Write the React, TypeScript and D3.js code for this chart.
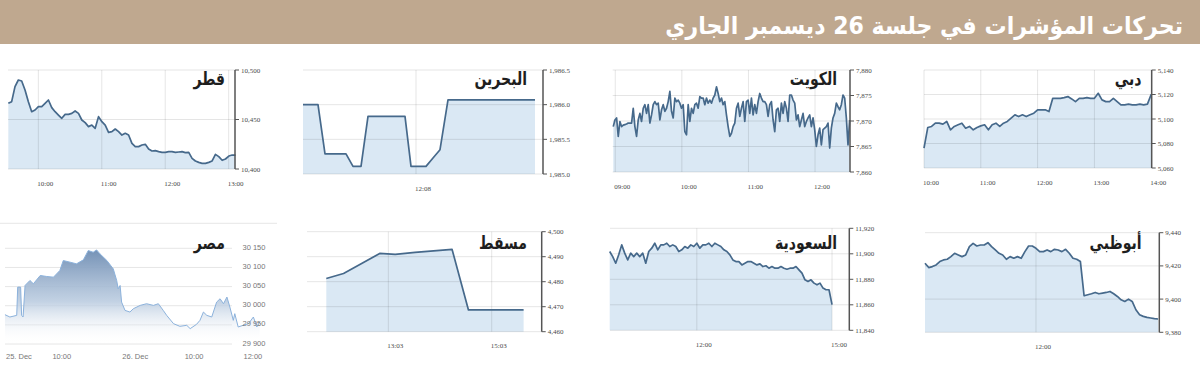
import React from 'react';
import * as d3 from 'd3';

// time helper: minutes since midnight
const t = (h: number, m: number) => h * 60 + m;
const evenTimes = (start: number, step: number, n: number) => d3.range(n).map((i) => start + i * step);

const headerTitle = 'تحركات المؤشرات في جلسة 26 ديسمبر الجاري';

// قطر
const qatarValues = [
  10466.3, 10468.0, 10483.2, 10489.9, 10488.9, 10479.8, 10468.0, 10457.9, 10459.6, 10463.0,
  10463.0, 10466.3, 10469.7, 10462.0, 10457.9, 10454.5, 10451.2, 10455.2, 10455.2, 10456.2,
  10458.6, 10456.2, 10449.5, 10446.8, 10442.8, 10444.4, 10441.1, 10452.9, 10447.8, 10444.4,
  10437.0, 10437.7, 10440.4, 10437.7, 10434.3, 10436.0, 10434.3, 10425.9, 10422.6, 10422.6,
  10424.2, 10424.9, 10420.2, 10418.2, 10418.5, 10417.5, 10416.8, 10416.8, 10417.5, 10417.5,
  10416.8, 10417.2, 10417.5, 10416.5, 10416.8, 10410.8, 10408.1, 10406.7, 10405.7, 10405.7,
  10406.7, 10408.1, 10414.8, 10412.5, 10408.8, 10410.1, 10413.1, 10414.1, 10414.1,
];
const qatarYTicks = [10400, 10450, 10500];
const qatarXTicks = [t(10, 0), t(11, 0), t(12, 0), t(13, 0)];

// البحرين
const bahrainTimes = [
  t(10, 15), t(10, 30), t(10, 37), t(10, 58), t(11, 5), t(11, 13), t(11, 20),
  t(11, 57), t(12, 3), t(12, 18), t(12, 25), t(12, 32), t(12, 40), t(14, 7),
];
const bahrainValues = [
  1986.0, 1986.0, 1985.29, 1985.29, 1985.11, 1985.11, 1985.83,
  1985.83, 1985.11, 1985.11, 1985.23, 1985.35, 1986.07, 1986.07,
];
const bahrainYTicks = [1985.0, 1985.5, 1986.0, 1986.5];
const bahrainXTicks = [t(12, 8)];

// الكويت
const kuwaitValues = [
  7868.9, 7870.2, 7870.6, 7867.0, 7869.9, 7868.9, 7869.2, 7869.3, 7869.4, 7869.6,
  7869.6, 7869.6, 7872.5, 7868.9, 7867.0, 7870.2, 7871.5, 7869.9, 7872.5, 7873.2,
  7871.5, 7873.2, 7869.6, 7871.2, 7873.2, 7873.8, 7873.2, 7873.5, 7870.2, 7872.2,
  7873.2, 7871.9, 7872.5, 7873.8, 7875.8, 7871.9, 7870.6, 7874.5, 7873.8, 7874.1,
  7873.5, 7872.5, 7873.2, 7867.9, 7867.3, 7873.2, 7869.9, 7872.5, 7871.5, 7873.2,
  7873.5, 7872.5, 7874.8, 7874.5, 7874.5, 7873.2, 7874.5, 7873.5, 7874.1, 7873.5,
  7874.5, 7875.1, 7876.7, 7875.4, 7873.8, 7874.5, 7873.2, 7873.8, 7871.2, 7868.9,
  7867.0, 7867.6, 7868.9, 7869.6, 7872.5, 7873.5, 7870.9, 7872.5, 7873.8, 7869.9,
  7873.8, 7874.1, 7871.5, 7874.5, 7871.2, 7873.2, 7871.5, 7873.8, 7875.4, 7874.5,
  7873.8, 7873.8, 7873.2, 7870.9, 7873.2, 7873.8, 7870.2, 7867.9, 7872.2, 7872.5,
  7869.9, 7873.5, 7871.5, 7873.8, 7872.5, 7869.9, 7875.1, 7875.1, 7874.1, 7873.5,
  7870.2, 7871.2, 7868.9, 7870.2, 7871.5, 7868.9, 7869.9, 7870.6, 7871.2, 7868.9,
  7870.6, 7868.3, 7865.0, 7867.3, 7868.6, 7865.3, 7868.3, 7868.6, 7868.9, 7869.6,
  7864.7, 7868.6, 7870.6, 7871.5, 7873.5, 7872.8, 7872.2, 7873.2, 7875.1, 7874.5,
  7870.6, 7865.3, 7870.2,
];
const kuwaitYTicks = [7860, 7865, 7870, 7875, 7880];
const kuwaitXTicks = [t(9, 0), t(10, 0), t(11, 0), t(12, 0)];

// دبي
const dubaiValues = [
  5076.3, 5093.1, 5093.9, 5096.6, 5096.6, 5095.8, 5098.0, 5091.2, 5093.9, 5095.3,
  5096.6, 5092.5, 5093.9, 5091.2, 5093.1, 5094.4, 5095.3, 5091.2, 5095.3, 5096.6,
  5093.9, 5096.6, 5098.0, 5100.7, 5103.4, 5102.0, 5103.4, 5102.0, 5103.4, 5104.7,
  5107.5, 5107.5, 5107.5, 5106.1, 5116.9, 5116.9, 5116.9, 5117.5, 5118.3, 5116.4,
  5114.2, 5116.9, 5116.9, 5117.5, 5116.9, 5116.9, 5121.0, 5115.6, 5114.2, 5114.2,
  5116.9, 5114.2, 5111.5, 5111.5, 5112.1, 5111.5, 5111.5, 5112.1, 5111.5, 5112.1,
  5120.2,
];
const dubaiYTicks = [5060, 5080, 5100, 5120, 5140];
const dubaiXTicks = [t(10, 0), t(11, 0), t(12, 0), t(13, 0), t(14, 0)];

// مسقط
const muscatTimes = [t(11, 51), t(12, 11), t(12, 32), t(12, 53), t(13, 11), t(13, 34), t(14, 17), t(14, 36), t(15, 40)];
const muscatValues = [4481.3, 4483.3, 4487.3, 4491.3, 4490.9, 4491.7, 4492.9, 4468.7, 4468.7];
const muscatYTicks = [4460, 4470, 4480, 4490, 4500];
const muscatXTicks = [t(13, 3), t(15, 3)];

// السعودية
const saudiValues = [
  11901.8, 11897.8, 11892.6, 11899.2, 11907.0, 11900.5, 11895.2, 11900.5, 11897.8, 11900.5,
  11897.8, 11900.5, 11892.6, 11901.8, 11904.4, 11908.3, 11903.1, 11907.0, 11907.0, 11908.3,
  11905.7, 11907.0, 11905.7, 11901.8, 11903.1, 11905.7, 11904.4, 11907.0, 11905.7, 11908.3,
  11904.4, 11907.0, 11907.0, 11908.3, 11905.7, 11908.3, 11907.0, 11905.7, 11903.1, 11901.8,
  11899.2, 11895.2, 11893.9, 11893.9, 11891.3, 11892.6, 11893.9, 11893.9, 11892.6, 11891.3,
  11892.1, 11890.0, 11890.6, 11888.7, 11890.0, 11888.7, 11888.7, 11890.0, 11888.7, 11887.9,
  11888.7, 11888.7, 11890.0, 11887.4, 11884.8, 11879.6, 11878.3, 11879.6, 11877.0, 11875.7,
  11877.0, 11873.1, 11871.8, 11871.8, 11860.1,
];
const saudiYTicks = [11840, 11860, 11880, 11900, 11920];
const saudiXTicks = [t(12, 0), t(15, 0)];

// أبوظبي
const abuDhabiValues = [
  9421.6, 9419.0, 9419.6, 9420.6, 9422.6, 9423.6, 9424.0, 9425.6, 9427.6, 9426.6,
  9425.6, 9426.6, 9431.6, 9433.6, 9432.0, 9432.6, 9432.6, 9434.0, 9431.6, 9429.6,
  9427.6, 9426.6, 9424.0, 9425.6, 9424.6, 9425.6, 9424.6, 9428.6, 9432.0, 9432.0,
  9430.6, 9428.6, 9428.6, 9429.6, 9428.6, 9430.0, 9429.6, 9428.6, 9430.0, 9427.6,
  9424.6, 9424.0, 9422.6, 9402.0, 9402.6, 9403.2, 9404.0, 9403.2, 9403.6, 9404.0,
  9404.6, 9403.2, 9401.6, 9399.6, 9398.6, 9400.0, 9398.6, 9393.6, 9390.6, 9389.6,
  9389.0, 9388.6, 9388.2, 9388.0,
];
const abuDhabiYTicks = [9380, 9400, 9420, 9440];
const abuDhabiXTicks = [t(12, 0)];

// مصر (trading minutes across two sessions, 25-26 Dec)
const egyptTimes = [
  4, 14, 28, 30, 36, 38, 41, 45, 55, 62, 76, 89, 103, 116, 123, 137, 150, 164, 174, 184,
  191, 198, 212, 225, 232, 235, 239, 242, 249, 259, 266, 280, 293, 307, 317, 327, 334, 348, 361, 375,
  382, 395, 402, 409, 416, 426, 436, 443, 450, 457, 463, 470, 473, 480, 490, 501, 511, 518, 524,
];
const egyptValues = [
  29976.6, 29970.5, 29974.8, 30048.6, 30048.6, 29974.8, 29970.5, 30052.9, 30066.0, 30057.3,
  30079.0, 30076.4, 30074.6, 30092.0, 30118.0, 30113.7, 30109.4, 30119.8, 30144.1, 30139.7,
  30145.8, 30135.4, 30118.0, 30096.3, 30066.0, 30044.3, 30052.9, 30009.5, 29987.8, 29983.5,
  29992.2, 30000.9, 30005.2, 30000.9, 30005.2, 29987.8, 29974.8, 29953.1, 29946.2, 29948.8,
  29940.1, 29951.4, 29961.8, 29983.5, 29974.8, 29970.5, 30009.5, 30018.2, 30005.2, 30022.6,
  29996.5, 29961.8, 29979.2, 29944.4, 29948.8, 29953.1, 29970.5, 29944.4, 29957.5,
];
const egyptYTicks = [29900, 29950, 30000, 30050, 30100, 30150];
const egyptXTicks = [0, 120, 270, 390, 510];
const egyptXLabels = ['25. Dec', '10:00', '26. Dec', '10:00', '12:00'];

const hhmm = (m: number) => {
  const h = Math.floor(m / 60);
  const mm = Math.round(m % 60);
  return `${String(h).padStart(2, '0')}:${String(mm).padStart(2, '0')}`;
};

const panels = [
  {
    title: 'قطر', left: 8, right: 235, top: 70, bottom: 169, titleX: 225, titleY: 85,
    xDomain: [t(9, 31.3), t(13, 6)], yDomain: [10400, 10500],
    xTicks: qatarXTicks, yTicks: qatarYTicks, yFormat: ',',
    times: evenTimes(t(9, 31.6), 3.16, qatarValues.length), values: qatarValues,
  },
  {
    title: 'البحرين', left: 303, right: 543, top: 70, bottom: 174, titleX: 527, titleY: 85,
    xDomain: [t(10, 15), t(14, 15)], yDomain: [1985, 1986.5],
    xTicks: bahrainXTicks, yTicks: bahrainYTicks, yFormat: ',.1f',
    times: bahrainTimes, values: bahrainValues,
  },
  {
    title: 'الكويت', left: 612.7, right: 850, top: 70, bottom: 172, titleX: 837, titleY: 85,
    xDomain: [t(8, 57.7), t(12, 31.5)], yDomain: [7860, 7880],
    xTicks: kuwaitXTicks, yTicks: kuwaitYTicks, yFormat: ',',
    times: evenTimes(t(8, 58.2), 1.5, kuwaitValues.length), values: kuwaitValues,
  },
  {
    title: 'دبي', left: 924, right: 1151.7, top: 70, bottom: 168, titleX: 1141.5, titleY: 85,
    xDomain: [t(10, 0), t(14, 0.5)], yDomain: [5060, 5140],
    xTicks: dubaiXTicks, yTicks: dubaiYTicks, yFormat: ',',
    times: evenTimes(t(10, 0), 4, dubaiValues.length), values: dubaiValues,
  },
  {
    title: 'مسقط', left: 307, right: 541.7, top: 231.7, bottom: 331.7, titleX: 527, titleY: 249,
    xDomain: [t(11, 28.6), t(16, 1)], yDomain: [4460, 4500],
    xTicks: muscatXTicks, yTicks: muscatYTicks, yFormat: ',',
    times: muscatTimes, values: muscatValues,
  },
  {
    title: 'السعودية', left: 610, right: 849.3, top: 228.3, bottom: 330.3, titleX: 837, titleY: 249,
    xDomain: [t(10, 4.4), t(15, 23)], yDomain: [11840, 11920],
    xTicks: saudiXTicks, yTicks: saudiYTicks, yFormat: ',',
    times: evenTimes(t(10, 4), 4, saudiValues.length), values: saudiValues,
  },
  {
    title: 'أبوظبي', left: 925, right: 1159.3, top: 232.7, bottom: 332.3, titleX: 1141.5, titleY: 249,
    xDomain: [t(10, 0), t(14, 13.3)], yDomain: [9380, 9440],
    xTicks: abuDhabiXTicks, yTicks: abuDhabiYTicks, yFormat: ',',
    times: evenTimes(t(10, 0), 4, abuDhabiValues.length), values: abuDhabiValues,
  },
];

const tickFont = 'Liberation Serif, DejaVu Serif, serif';
const arabicFont = 'DejaVu Sans, sans-serif';

// condensed bold Arabic label, right edge at x
function Title({ x, y, text }: { x: number; y: number; text: string }) {
  return (
    <text transform={`translate(${x},${y}) scale(0.78,1)`} textAnchor="end" fontFamily={arabicFont} fontWeight="bold" fontSize={18} fill="#1e1e1e">
      {text}
    </text>
  );
}

function Panel({ p }: { p: any }) {
  const x = d3.scaleLinear().domain(p.xDomain).range([p.left, p.right]);
  const y = d3.scaleLinear().domain(p.yDomain).range([p.bottom, p.top]);
  const pts: [number, number][] = p.values.map((v: number, i: number) => [p.times[i], v]);
  const line = d3.line<[number, number]>().x((d) => x(d[0])).y((d) => y(d[1]));
  const area = d3.area<[number, number]>().x((d) => x(d[0])).y0(p.bottom).y1((d) => y(d[1]));
  const fmt = d3.format(p.yFormat);

  return (
    <g>
      <path d={area(pts) || ''} fill="#dae8f4" />
      {p.yTicks.map((v: number) => (
        <line key={'h' + v} x1={p.left} x2={p.right} y1={y(v)} y2={y(v)} stroke="#000" strokeOpacity={0.1} />
      ))}
      {p.xTicks.map((v: number) => (
        <line key={'v' + v} x1={x(v)} x2={x(v)} y1={p.top} y2={p.bottom} stroke="#000" strokeOpacity={0.1} />
      ))}
      <path d={line(pts) || ''} fill="none" stroke="#46698b" strokeWidth={1.7} strokeLinejoin="round" />
      <line x1={p.right} x2={p.right} y1={p.top} y2={p.bottom} stroke="#555" strokeWidth={1.5} />
      {p.yTicks.map((v: number) => (
        <g key={'y' + v}>
          <line x1={p.right} x2={p.right + 4} y1={y(v)} y2={y(v)} stroke="#555" strokeWidth={1} />
          <text x={p.right + 6} y={y(v) + 2.5} fontFamily={tickFont} fontSize={7} fill="#4a4a4a">
            {fmt(v)}
          </text>
        </g>
      ))}
      {p.xTicks.map((v: number) => (
        <text key={'x' + v} x={x(v) - 1} y={p.bottom + 16.5} fontFamily={tickFont} fontSize={7} fill="#4a4a4a">
          {hhmm(v)}
        </text>
      ))}
      <Title x={p.titleX} y={p.titleY} text={p.title} />
    </g>
  );
}

function EgyptPanel() {
  const x = d3.scaleLinear().domain([0, 540]).range([3, 267.6]);
  const y = d3.scaleLinear().domain([29900, 30150]).range([344, 248.3]);
  const pts: [number, number][] = egyptValues.map((v, i) => [egyptTimes[i], v]);
  const line = d3.line<[number, number]>().x((d) => x(d[0])).y((d) => y(d[1]));
  const area = d3.area<[number, number]>().x((d) => x(d[0])).y0(y(29900)).y1((d) => y(d[1]));
  const fmt = d3.formatLocale({ decimal: '.', thousands: ' ', grouping: [3], currency: ['', ''] }).format(',');

  return (
    <g>
      <defs>
        <linearGradient id="egyptFill" x1="0" y1="0" x2="0" y2="1">
          <stop offset="0" stopColor="#7592b6" stopOpacity={1} />
          <stop offset="0.55" stopColor="#b8cadf" stopOpacity={0.85} />
          <stop offset="1" stopColor="#ffffff" stopOpacity={0} />
        </linearGradient>
      </defs>
      <line x1={0} x2={277} y1={223.3} y2={223.3} stroke="#e6e6e6" />
      {egyptYTicks.map((v) => (
        <line key={'h' + v} x1={5} x2={232} y1={y(v)} y2={y(v)} stroke="#e6e6e6" />
      ))}
      <path d={area(pts) || ''} fill="url(#egyptFill)" />
      <path d={line(pts) || ''} fill="none" stroke="#8cb2dc" strokeWidth={1} />
      {egyptYTicks.map((v) => (
        <text key={'y' + v} x={254} y={y(v) + 1.5} textAnchor="middle" fontFamily="Liberation Sans, sans-serif" fontSize={7.5} fill="#777">
          {fmt(v)}
        </text>
      ))}
      {egyptXTicks.map((v, i) => (
        <text key={'x' + v} x={i === 0 ? x(v) + 3 : x(v)} y={358.5} textAnchor={i === 0 ? 'start' : 'middle'} fontFamily="Liberation Sans, sans-serif" fontSize={7.5} fill="#777">
          {egyptXLabels[i]}
        </text>
      ))}
      <Title x={225} y={249} text="مصر" />
    </g>
  );
}

export default function App() {
  return (
    <svg width={1200} height={370} style={{ position: 'absolute', left: 0, top: 0, background: '#fff' }}>
      <rect x={0} y={0} width={1200} height={44} fill="#bfa88f" />
      <text transform="translate(1183,34) scale(0.92,1)" textAnchor="end" fontFamily={arabicFont} fontWeight="bold" fontSize={24} fill="#fff">
        {headerTitle}
      </text>
      {panels.map((p) => (
        <Panel key={p.title} p={p} />
      ))}
      <EgyptPanel />
    </svg>
  );
}
